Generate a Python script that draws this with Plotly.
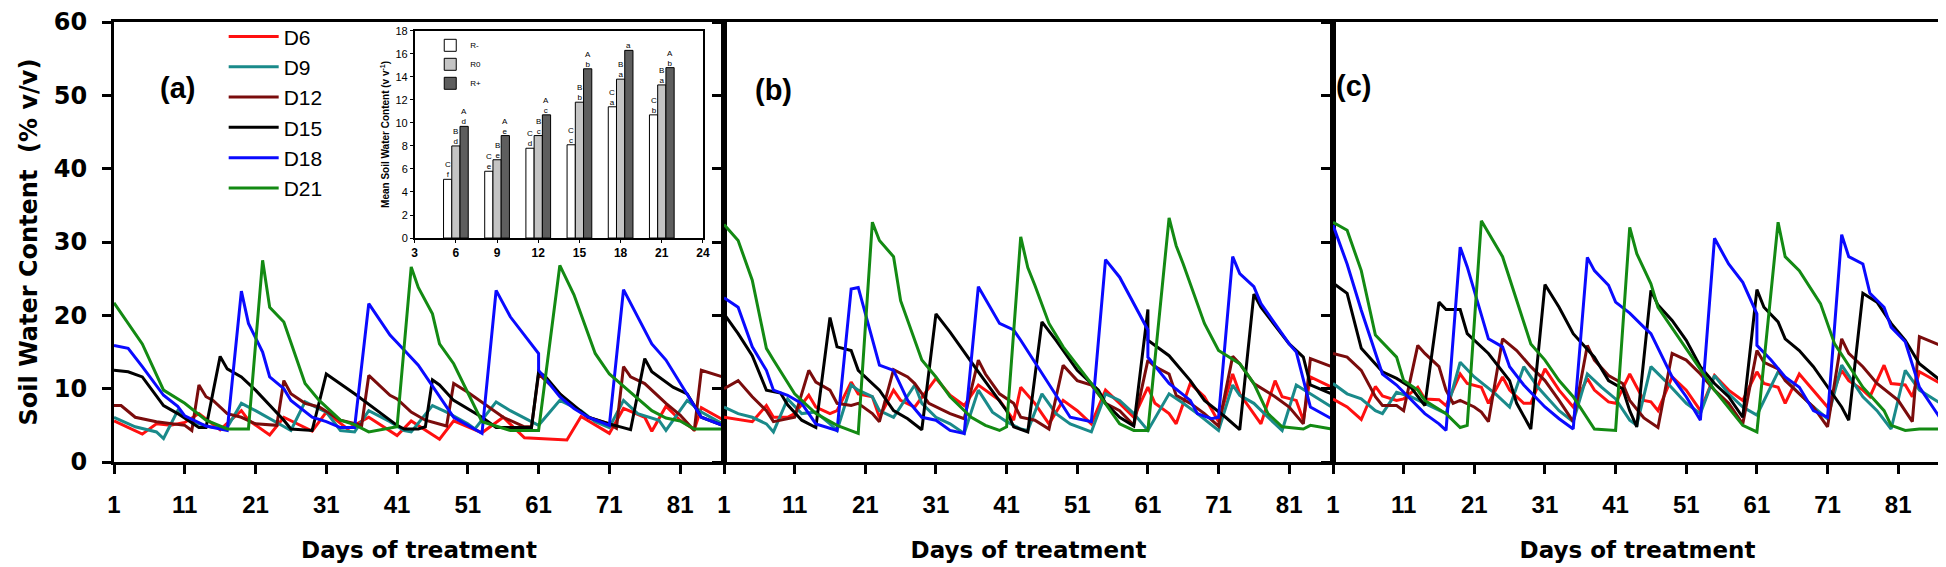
import plotly.graph_objects as go

# ---- main panels: soil water content (% v/v) by day of treatment ----
DAY_TICKS = [1, 11, 21, 31, 41, 51, 61, 71, 81]
SWC_TICKS = [0, 10, 20, 30, 40, 50, 60]
TREATMENTS = ["D6", "D9", "D12", "D15", "D18", "D21"]
COLORS = ["#ff1010", "#1a8a8a", "#7a0c0c", "#000000", "#0a0aff", "#138a13"]

# panel (a)
A_D6_DAY = [1, 5, 7, 9, 11, 13, 16, 19, 20, 23, 25, 29, 31, 34, 37, 41, 43, 47, 49, 53, 56, 59, 61, 65, 67, 71, 73, 76, 77, 79, 81, 83, 84, 87]
A_D6_SWC = [5.6, 3.8, 5.2, 5.0, 5.4, 6.6, 4.4, 7.0, 5.7, 3.7, 6.1, 4.2, 6.8, 4.5, 6.1, 3.6, 5.6, 3.1, 5.6, 4.0, 6.1, 3.3, 3.2, 3.0, 6.2, 3.9, 7.3, 6.1, 4.2, 7.6, 5.7, 4.4, 7.4, 5.8]
A_D9_DAY = [1, 4, 7, 8, 10, 11, 13, 15, 17, 19, 21, 23, 26, 28, 31, 33, 35, 37, 40, 42, 43, 46, 48, 51, 52, 55, 57, 61, 64, 67, 69, 71, 73, 75, 78, 79, 82, 84, 87]
A_D9_SWC = [6.1, 4.8, 4.1, 3.2, 7.0, 6.1, 5.2, 4.7, 4.7, 8.0, 7.0, 5.9, 4.3, 8.2, 6.8, 4.3, 4.1, 7.0, 5.5, 4.3, 4.1, 7.7, 6.8, 5.2, 4.5, 8.2, 7.0, 5.0, 8.4, 7.0, 5.5, 4.7, 8.4, 6.6, 5.7, 4.3, 8.4, 6.8, 5.2]
A_D12_DAY = [1, 2, 4, 7, 11, 12, 13, 14, 15, 17, 19, 21, 24, 25, 26, 28, 30, 33, 36, 37, 40, 41, 43, 45, 48, 49, 51, 54, 56, 59, 60, 61, 64, 66, 68, 71, 72, 73, 74, 76, 79, 81, 83, 84, 87]
A_D12_SWC = [7.7, 7.7, 6.1, 5.5, 5.0, 4.3, 10.5, 8.9, 8.4, 6.6, 6.1, 5.2, 5.0, 11.1, 9.3, 8.0, 7.5, 5.7, 5.0, 11.8, 9.1, 8.6, 6.8, 5.7, 4.9, 10.7, 9.5, 7.5, 6.1, 4.8, 4.8, 12.0, 9.3, 7.5, 6.1, 5.2, 4.6, 13.0, 11.6, 10.7, 8.0, 6.4, 4.3, 12.5, 11.6]
A_D15_DAY = [1, 3, 5, 8, 10, 13, 14, 16, 17, 19, 21, 25, 26, 29, 31, 35, 41, 42, 44, 45, 46, 47, 49, 51, 53, 55, 60, 61, 62, 64, 67, 68, 71, 74, 76, 77, 80, 82, 84, 87]
A_D15_SWC = [12.5, 12.3, 11.6, 7.7, 6.6, 4.7, 4.7, 14.4, 12.7, 11.6, 9.8, 5.7, 4.5, 4.3, 12.0, 9.3, 5.0, 4.5, 4.5, 4.8, 11.2, 10.5, 8.4, 7.3, 6.1, 4.7, 4.7, 12.3, 11.6, 9.3, 6.8, 6.1, 5.2, 4.4, 14.1, 12.3, 10.2, 9.3, 6.1, 5.0]
A_D18_DAY = [1, 3, 5, 8, 10, 11, 14, 17, 19, 20, 22, 23, 25, 26, 29, 31, 33, 35, 37, 40, 41, 44, 49, 53, 55, 57, 61, 61, 64, 66, 68, 71, 73, 77, 79, 82, 84, 87]
A_D18_SWC = [15.9, 15.5, 13.0, 9.1, 7.6, 6.3, 4.9, 4.3, 23.3, 18.9, 15.0, 11.6, 10.0, 8.4, 6.1, 5.5, 4.7, 4.7, 21.6, 17.3, 16.3, 13.2, 6.1, 3.9, 23.4, 19.8, 14.8, 12.5, 8.9, 7.3, 6.1, 5.0, 23.5, 16.1, 13.9, 9.3, 6.1, 5.0]
A_D21_DAY = [1, 5, 8, 11, 14, 17, 20, 22, 23, 25, 28, 30, 33, 35, 37, 40, 41, 43, 44, 46, 47, 49, 53, 57, 61, 64, 66, 69, 71, 74, 77, 79, 81, 83, 87]
A_D21_SWC = [21.7, 16.1, 9.8, 8.0, 5.7, 4.5, 4.5, 27.5, 21.1, 19.1, 10.7, 8.4, 5.7, 5.1, 4.1, 4.7, 4.8, 26.6, 23.8, 20.2, 16.1, 13.4, 5.5, 4.3, 4.3, 26.8, 22.8, 14.8, 12.0, 9.5, 7.0, 6.0, 5.6, 4.5, 4.5]

# panel (b)
B_D6_DAY = [1, 5, 7, 8, 10, 11, 13, 14, 16, 17, 19, 20, 22, 23, 25, 26, 28, 31, 33, 35, 37, 40, 42, 43, 45, 47, 49, 51, 53, 55, 57, 59, 61, 62, 64, 65, 67, 69, 71, 73, 74, 77, 79, 80, 82, 83, 84, 87]
B_D6_SWC = [6.1, 5.5, 7.7, 6.1, 6.1, 6.6, 9.1, 7.5, 6.6, 7.0, 10.9, 9.3, 8.9, 6.1, 9.8, 8.4, 7.5, 11.4, 9.1, 7.7, 10.5, 8.4, 5.7, 10.2, 8.0, 5.2, 8.4, 7.0, 5.2, 9.8, 8.0, 6.1, 10.2, 8.0, 6.6, 5.2, 10.7, 8.9, 5.5, 12.0, 9.3, 5.2, 11.1, 8.9, 8.4, 5.7, 11.6, 10.2]
B_D9_DAY = [1, 3, 5, 7, 8, 10, 12, 14, 16, 17, 19, 20, 22, 23, 25, 28, 29, 31, 33, 35, 37, 39, 41, 43, 44, 46, 48, 50, 53, 55, 57, 59, 61, 64, 66, 68, 71, 73, 74, 76, 78, 80, 82, 84, 87]
B_D9_SWC = [7.5, 6.6, 6.1, 5.2, 4.1, 8.6, 6.6, 6.8, 5.2, 4.3, 10.5, 9.8, 8.9, 7.0, 6.1, 10.5, 8.0, 6.1, 5.2, 3.9, 9.8, 6.8, 5.5, 4.5, 4.3, 9.3, 6.6, 5.2, 4.1, 9.3, 8.4, 6.6, 4.3, 9.3, 8.0, 6.6, 4.3, 10.5, 9.1, 8.0, 6.1, 4.3, 10.5, 9.3, 7.5]
B_D12_DAY = [1, 3, 5, 7, 8, 10, 11, 13, 14, 16, 17, 19, 20, 22, 23, 25, 27, 28, 30, 33, 35, 37, 38, 40, 42, 43, 45, 47, 49, 51, 53, 55, 57, 59, 61, 62, 64, 65, 67, 69, 71, 73, 74, 76, 79, 81, 83, 84, 87]
B_D12_SWC = [10.0, 11.1, 8.9, 7.0, 5.5, 5.9, 6.1, 12.5, 10.9, 9.8, 8.0, 7.7, 8.0, 6.6, 5.5, 12.6, 11.6, 10.7, 8.0, 6.6, 5.9, 13.9, 12.0, 9.3, 8.0, 6.1, 5.7, 4.5, 13.2, 11.1, 10.5, 8.0, 7.0, 5.0, 13.9, 13.0, 12.0, 9.1, 8.0, 6.6, 4.9, 14.4, 13.4, 10.7, 8.9, 7.5, 5.2, 14.1, 13.0]
B_D15_DAY = [1, 3, 5, 7, 9, 10, 12, 14, 16, 17, 19, 20, 23, 25, 27, 29, 31, 33, 37, 40, 41, 42, 44, 46, 48, 51, 54, 55, 57, 59, 61, 61, 64, 67, 69, 72, 74, 76, 77, 81, 83, 84, 87]
B_D15_SWC = [20.2, 17.5, 14.5, 9.8, 9.4, 7.8, 5.7, 4.7, 19.7, 15.7, 15.2, 12.5, 9.8, 7.0, 5.9, 4.4, 20.2, 17.7, 12.3, 8.2, 7.0, 4.8, 4.1, 19.1, 16.6, 12.5, 9.8, 8.0, 6.1, 4.9, 20.8, 16.6, 14.5, 11.1, 8.4, 6.1, 4.4, 22.9, 21.1, 16.1, 14.3, 10.5, 9.3]
B_D18_DAY = [1, 3, 5, 7, 8, 10, 12, 14, 17, 19, 20, 23, 25, 27, 29, 31, 33, 35, 37, 40, 42, 43, 50, 53, 55, 57, 61, 61, 64, 67, 68, 70, 71, 73, 74, 76, 77, 81, 82, 83, 84, 87]
B_D18_SWC = [22.4, 21.1, 15.7, 12.5, 9.8, 9.1, 8.0, 5.2, 4.3, 23.6, 23.8, 13.2, 12.5, 8.4, 6.1, 5.7, 4.3, 3.9, 23.9, 18.9, 18.0, 16.6, 6.1, 5.5, 27.6, 25.2, 18.0, 14.3, 10.7, 8.4, 6.6, 5.9, 6.1, 28.0, 25.7, 23.9, 21.6, 16.1, 15.0, 11.1, 7.5, 5.9]
B_D21_DAY = [1, 3, 5, 7, 8, 11, 14, 17, 20, 22, 23, 25, 26, 29, 31, 33, 36, 38, 40, 41, 43, 44, 45, 47, 49, 53, 57, 59, 61, 64, 65, 66, 69, 71, 74, 76, 78, 80, 83, 84, 87]
B_D21_SWC = [32.4, 30.2, 24.8, 15.5, 13.9, 9.3, 6.6, 5.0, 3.9, 32.7, 30.2, 28.0, 22.0, 13.9, 11.6, 8.9, 6.1, 5.0, 4.3, 4.8, 30.7, 26.5, 24.1, 18.9, 15.7, 10.7, 5.2, 4.3, 4.3, 33.3, 29.5, 27.0, 18.9, 15.2, 13.4, 10.7, 6.6, 4.8, 4.5, 5.0, 4.5]

# panel (c)
C_D6_DAY = [1, 3, 5, 7, 8, 10, 11, 13, 14, 16, 17, 19, 20, 22, 23, 25, 26, 28, 29, 31, 33, 35, 37, 38, 40, 41, 43, 45, 46, 47, 49, 51, 53, 55, 57, 59, 61, 62, 64, 65, 67, 69, 71, 73, 74, 76, 77, 79, 80, 82, 83, 84, 87]
C_D6_SWC = [8.6, 7.5, 5.8, 10.3, 9.0, 8.4, 8.6, 10.2, 8.6, 8.5, 7.7, 12.0, 10.7, 10.2, 8.0, 11.6, 9.8, 8.0, 8.0, 12.7, 9.8, 7.5, 11.4, 9.8, 8.2, 8.0, 12.0, 8.4, 8.2, 7.0, 11.6, 9.8, 7.0, 11.8, 9.8, 8.4, 12.3, 10.7, 10.2, 8.0, 12.0, 9.8, 7.5, 12.5, 11.1, 9.8, 8.9, 13.2, 10.7, 10.5, 8.9, 12.3, 10.7]
C_D9_DAY = [1, 3, 5, 7, 8, 10, 12, 14, 16, 17, 19, 21, 24, 26, 28, 30, 33, 35, 37, 39, 41, 43, 44, 46, 48, 51, 53, 55, 57, 59, 61, 64, 67, 69, 71, 73, 76, 78, 80, 82, 84, 87]
C_D9_SWC = [10.7, 9.3, 8.6, 7.0, 6.6, 9.5, 8.9, 8.0, 7.0, 6.6, 13.6, 11.6, 9.3, 7.5, 13.0, 10.2, 7.0, 5.5, 12.0, 10.2, 8.6, 5.7, 5.0, 13.0, 11.1, 8.0, 6.6, 11.8, 9.3, 7.5, 6.4, 12.3, 9.3, 7.5, 5.9, 13.2, 8.9, 7.0, 4.5, 12.5, 9.8, 8.0]
C_D12_DAY = [1, 3, 5, 7, 8, 10, 11, 13, 14, 16, 17, 18, 19, 21, 22, 23, 25, 27, 29, 31, 33, 35, 37, 38, 40, 42, 43, 45, 47, 49, 51, 53, 55, 57, 59, 61, 62, 64, 65, 67, 69, 71, 73, 74, 76, 78, 80, 81, 83, 84, 87]
C_D12_SWC = [14.8, 14.3, 12.5, 8.9, 7.7, 7.7, 7.0, 15.9, 14.8, 13.0, 9.8, 8.0, 8.4, 7.5, 6.8, 5.5, 16.8, 15.2, 13.0, 11.1, 8.4, 5.5, 15.9, 13.9, 11.8, 10.7, 8.4, 6.0, 4.7, 14.8, 13.9, 12.0, 9.8, 8.0, 5.2, 15.2, 13.6, 12.7, 11.1, 9.3, 7.5, 4.8, 16.8, 14.8, 13.0, 10.7, 9.1, 8.4, 5.5, 17.1, 15.9]
C_D15_DAY = [1, 3, 5, 8, 10, 12, 14, 16, 17, 19, 20, 23, 26, 27, 29, 31, 33, 35, 38, 40, 42, 43, 44, 46, 47, 49, 51, 53, 55, 57, 59, 61, 62, 64, 65, 67, 69, 71, 73, 74, 76, 78, 80, 82, 84, 87]
C_D15_SWC = [24.4, 23.0, 15.5, 12.3, 11.4, 10.2, 7.7, 21.8, 20.8, 20.8, 17.5, 14.8, 11.1, 8.0, 4.5, 24.2, 21.1, 17.5, 14.3, 11.1, 10.0, 7.0, 4.8, 23.4, 21.4, 19.3, 16.6, 13.0, 10.7, 8.9, 6.1, 23.5, 21.1, 19.1, 16.8, 15.2, 13.0, 10.2, 7.5, 5.7, 23.0, 21.8, 18.9, 16.6, 13.4, 11.1]
C_D18_DAY = [1, 3, 5, 7, 8, 10, 11, 14, 16, 17, 19, 20, 23, 25, 26, 28, 31, 33, 35, 37, 38, 40, 41, 43, 45, 46, 49, 51, 53, 55, 57, 59, 61, 61, 63, 65, 67, 69, 71, 73, 74, 76, 77, 79, 80, 82, 84, 87]
C_D18_SWC = [32.3, 27.0, 20.7, 14.8, 12.0, 10.5, 9.5, 6.6, 5.2, 4.3, 29.3, 26.6, 16.8, 15.7, 13.0, 10.5, 7.5, 5.9, 4.5, 27.9, 26.1, 24.1, 21.8, 20.3, 18.4, 17.5, 11.6, 8.9, 5.7, 30.5, 27.0, 24.5, 20.2, 15.9, 13.9, 11.6, 10.2, 7.0, 6.1, 31.0, 28.0, 27.0, 23.0, 21.1, 18.4, 16.4, 10.2, 5.9]
C_D21_DAY = [1, 3, 5, 7, 10, 11, 13, 14, 17, 19, 20, 22, 25, 29, 31, 33, 35, 38, 41, 43, 44, 46, 47, 53, 55, 59, 61, 64, 65, 67, 70, 72, 76, 79, 80, 82, 84, 87]
C_D21_SWC = [32.7, 31.6, 26.1, 17.3, 14.3, 11.1, 9.8, 8.4, 6.6, 4.7, 5.0, 32.9, 28.0, 16.1, 13.9, 11.1, 8.9, 4.5, 4.3, 32.0, 28.4, 24.3, 21.1, 12.5, 9.8, 5.0, 4.1, 32.7, 28.0, 26.1, 21.6, 16.1, 10.2, 7.0, 5.0, 4.3, 4.5, 4.5]

# ---- inset: mean soil water content by irrigation interval ----
INSET_DAYS = [6, 9, 12, 15, 18, 21]
R_MINUS = [5.1, 5.8, 7.8, 8.1, 11.4, 10.7]
R_ZERO = [8.0, 6.8, 8.9, 11.8, 13.8, 13.3]
R_PLUS = [9.7, 8.9, 10.7, 14.7, 16.3, 14.8]
R_MINUS_LET = ["C<br>f", "C<br>e", "C<br>d", "C<br>c", "C<br>a", "C<br>b"]
R_ZERO_LET = ["B<br>d", "B<br>e", "B<br>c", "B<br>b", "B<br>a", "B<br>a"]
R_PLUS_LET = ["A<br>d", "A<br>e", "A<br>c", "A<br>b", "a", "A<br>b"]

panels = {
    "": [(A_D6_DAY, A_D6_SWC), (A_D9_DAY, A_D9_SWC), (A_D12_DAY, A_D12_SWC),
         (A_D15_DAY, A_D15_SWC), (A_D18_DAY, A_D18_SWC), (A_D21_DAY, A_D21_SWC)],
    "2": [(B_D6_DAY, B_D6_SWC), (B_D9_DAY, B_D9_SWC), (B_D12_DAY, B_D12_SWC),
          (B_D15_DAY, B_D15_SWC), (B_D18_DAY, B_D18_SWC), (B_D21_DAY, B_D21_SWC)],
    "3": [(C_D6_DAY, C_D6_SWC), (C_D9_DAY, C_D9_SWC), (C_D12_DAY, C_D12_SWC),
          (C_D15_DAY, C_D15_SWC), (C_D18_DAY, C_D18_SWC), (C_D21_DAY, C_D21_SWC)],
}

fig = go.Figure()

for ax, series in panels.items():
    for i, (days, swc) in enumerate(series):
        fig.add_trace(go.Scatter(
            x=days, y=swc, mode="lines", name=TREATMENTS[i],
            line=dict(color=COLORS[i], width=3),
            xaxis="x" + ax, yaxis="y" + ax,
            legendgroup=TREATMENTS[i], showlegend=(ax == ""),
        ))

bar_sets = [("R-", R_MINUS, "white", R_MINUS_LET),
            ("R0", R_ZERO, "#c4c4c4", R_ZERO_LET),
            ("R+", R_PLUS, "#5e5e5e", R_PLUS_LET)]
for name, vals, col, _ in bar_sets:
    fig.add_trace(go.Bar(
        x=INSET_DAYS, y=vals, name=name, xaxis="x4", yaxis="y4",
        marker=dict(color=col, line=dict(color="black", width=1)),
        legend="legend2",
    ))

# letters above the inset bars
bar_w = 3 * (1 - 0.4) / 3
for k, (name, vals, col, lets) in enumerate(bar_sets):
    for d, v, t in zip(INSET_DAYS, vals, lets):
        fig.add_annotation(x=d + (k - 1) * bar_w, y=v, xref="x4", yref="y4",
                           text=t, showarrow=False, yanchor="bottom",
                           font=dict(family="Liberation Sans", size=8, color="black"),
                           yshift=-2)

FONT_B = "DejaVu Sans"
d1 = 610 / 1828
d2 = 1219 / 1828
xdoms = {"": [0, d1], "2": [d1, d2], "3": [d2, 1]}

layout = dict(
    width=1946, height=567,
    margin=dict(l=106, r=12, t=14, b=113, autoexpand=False),
    plot_bgcolor="white", paper_bgcolor="white",
    barmode="group", bargap=0.4, bargroupgap=0,
    showlegend=True,
    legend=dict(x=0.06, y=1.013, xanchor="left", yanchor="top",
                font=dict(family="Liberation Sans", size=21, color="black"),
                bgcolor="rgba(0,0,0,0)", itemwidth=50, tracegroupgap=0),
    legend2=dict(x=0.173, y=0.98, xanchor="left", yanchor="top",
                 font=dict(family="Liberation Sans", size=8, color="black"),
                 bgcolor="rgba(0,0,0,0)", itemwidth=30),
)

for ax, dom in xdoms.items():
    layout["xaxis" + ax] = dict(
        domain=dom, range=[1, 87.2], tickvals=DAY_TICKS,
        ticks="outside", ticklen=9, tickwidth=2.5, tickcolor="black",
        showline=True, linewidth=3, linecolor="black", mirror=True,
        showgrid=False, zeroline=False, anchor="y" + ax,
        tickfont=dict(family="Liberation Sans", size=24, color="black", weight="bold"),
        ticklabelstandoff=10,
        title=dict(text="Days of treatment", standoff=26,
                   font=dict(family=FONT_B, size=23, color="black", weight="bold")),
    )
    layout["yaxis" + ax] = dict(
        domain=[0, 1], range=[0, 60], tickvals=SWC_TICKS,
        ticks="outside", ticklen=9, tickwidth=2.5, tickcolor="black",
        showline=True, linewidth=3, linecolor="black", mirror=True,
        showgrid=False, zeroline=False, anchor="x" + ax,
        showticklabels=(ax == ""),
        tickfont=dict(family=FONT_B, size=24, color="black", weight="bold"),
        ticklabelstandoff=10,
    )

layout["yaxis"]["title"] = dict(
    text="Soil Water Content \u00a0(% v/v)", standoff=10,
    font=dict(family=FONT_B, size=24, color="black", weight="bold"))

layout["xaxis4"] = dict(
    domain=[0.1645, 0.3222], range=[3, 24], tickvals=[3, 6, 9, 12, 15, 18, 21, 24],
    ticks="outside", ticklen=3, tickcolor="black",
    showline=True, linewidth=1.5, linecolor="black", mirror=True,
    showgrid=False, zeroline=False, anchor="y4",
    tickfont=dict(family="Liberation Sans", size=12, color="black", weight="bold"),
)
layout["yaxis4"] = dict(
    domain=[0.509, 0.980], range=[0, 18], dtick=2,
    ticks="outside", ticklen=3, tickcolor="black",
    showline=True, linewidth=1.5, linecolor="black", mirror=True,
    showgrid=False, zeroline=False, anchor="x4",
    tickfont=dict(family="Liberation Sans", size=11, color="black"),
    title=dict(text="Mean Soil Water Content (v v<sup>-1</sup>)", standoff=4,
               font=dict(family="Liberation Sans", size=10, color="black", weight="bold")),
)

fig.update_layout(**layout)

for lab, px, py in [("(a)", 150, 62), ("(b)", 765, 64), ("(c)", 1365, 60)]:
    fig.add_annotation(text=lab, x=(px - 106) / 1828, y=(454 - py) / 440,
                       xref="paper", yref="paper", showarrow=False,
                       font=dict(family="Liberation Sans", size=29, color="black", weight="bold"))

fig.write_html("out.html")
